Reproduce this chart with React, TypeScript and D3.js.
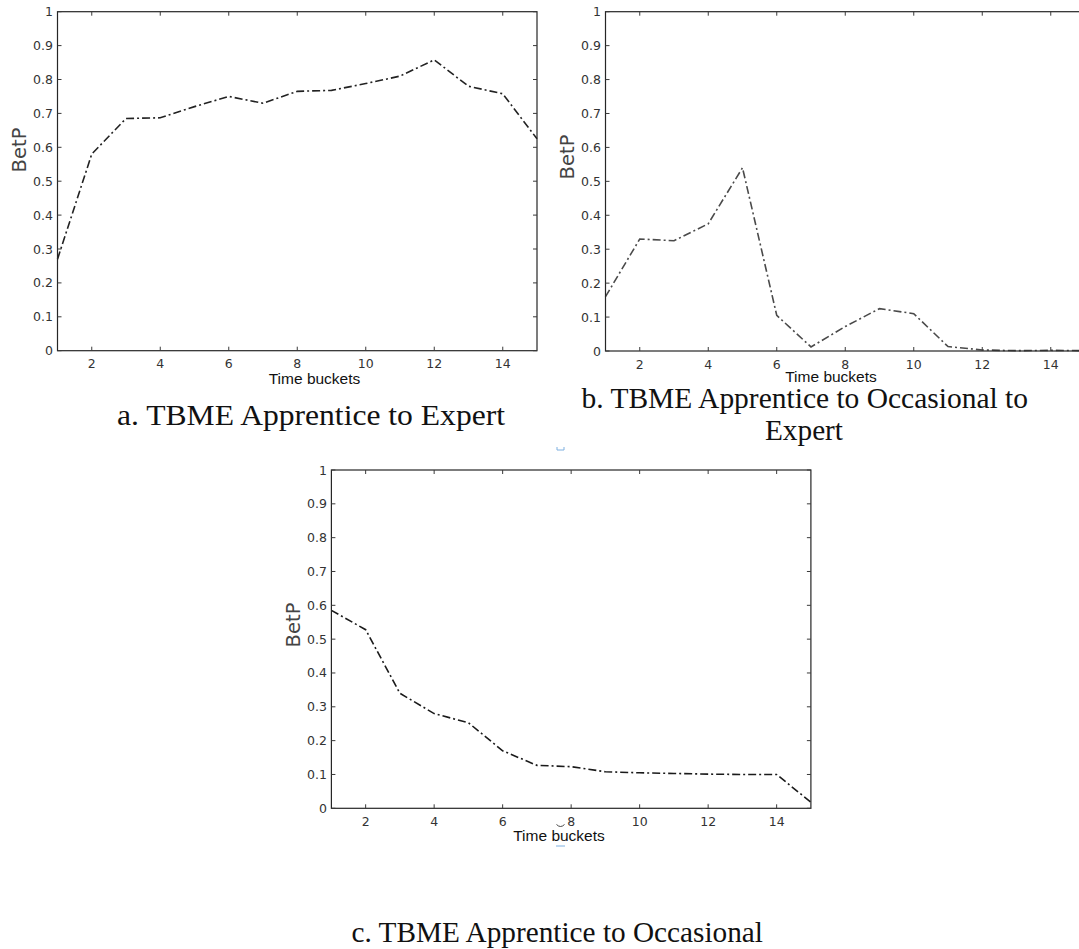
import React from "react";
import * as d3 from "d3";

const timeBuckets = [1, 2, 3, 4, 5, 6, 7, 8, 9, 10, 11, 12, 13, 14, 15];
const seriesA = [0.27, 0.58, 0.685, 0.687, 0.72, 0.75, 0.73, 0.765, 0.768, 0.788, 0.81, 0.858, 0.78, 0.758, 0.625];
const seriesB = [0.16, 0.33, 0.325, 0.375, 0.54, 0.105, 0.012, 0.072, 0.125, 0.11, 0.013, 0.003, 0.001, 0.002, 0.001];
const seriesC = [0.585, 0.528, 0.34, 0.28, 0.253, 0.17, 0.127, 0.123, 0.108, 0.105, 0.103, 0.101, 0.1, 0.1, 0.018];
const xTicks = [2, 4, 6, 8, 10, 12, 14];
const yTicks = [0, 0.1, 0.2, 0.3, 0.4, 0.5, 0.6, 0.7, 0.8, 0.9, 1];
const xLabel = "Time buckets";
const yLabel = "BetP";
const captionA = ["a. TBME Apprentice to Expert"];
const captionB = ["b. TBME Apprentice to Occasional to", "Expert"];
const captionC = ["c. TBME Apprentice to Occasional"];

type PanelProps = {
  values: number[];
  left: number;
  top: number;
  bottom: number;
  color: string;
  xLabelX: number;
  xLabelY: number;
  yLabelX: number;
  yLabelY: number;
};

const fmt = d3.format("~g");

function Panel({ values, left, top, bottom, color, xLabelX, xLabelY, yLabelX, yLabelY }: PanelProps) {
  const unit = 34.25;
  const x = d3.scaleLinear().domain([1, 15]).range([left, left + unit * 14]);
  const y = d3.scaleLinear().domain([0, 1]).range([bottom, top]);
  const [x0, x1] = x.range();
  const line = d3
    .line<number>()
    .x((_, i) => x(timeBuckets[i]))
    .y((d) => y(d));
  const tickColor = "#3a3a3a";
  return (
    <g>
      <path
        d={line(values) || ""}
        fill="none"
        stroke={color}
        strokeWidth={1.6}
        strokeDasharray="8,3,2,3"
      />
      <rect x={x0} y={top} width={x1 - x0} height={bottom - top} fill="none" stroke="#262626" strokeWidth={1.2} />
      {xTicks.map((t) => (
        <g key={"x" + t}>
          <line x1={x(t)} x2={x(t)} y1={bottom} y2={bottom - 4} stroke={tickColor} />
          <line x1={x(t)} x2={x(t)} y1={top} y2={top + 4} stroke={tickColor} />
          <text
            x={x(t)}
            y={bottom + 17.5}
            textAnchor="middle"
            fontFamily="DejaVu Sans"
            fontSize={12.5}
            fill="#333"
          >
            {fmt(t)}
          </text>
        </g>
      ))}
      {yTicks.map((t) => (
        <g key={"y" + t}>
          <line x1={x0} x2={x0 + 4} y1={y(t)} y2={y(t)} stroke={tickColor} />
          <line x1={x1} x2={x1 - 4} y1={y(t)} y2={y(t)} stroke={tickColor} />
          <text
            x={x0 - 4.5}
            y={y(t)}
            dy="0.36em"
            textAnchor="end"
            fontFamily="DejaVu Sans"
            fontSize={12.5}
            fill="#333"
          >
            {fmt(t)}
          </text>
        </g>
      ))}
      <text
        x={xLabelX}
        y={xLabelY}
        textAnchor="middle"
        fontFamily="Liberation Sans"
        fontSize={15.5}
        fill="#111"
      >
        {xLabel}
      </text>
      <text
        transform={`translate(${yLabelX},${yLabelY}) rotate(-90)`}
        textAnchor="middle"
        dy="0.36em"
        fontFamily="DejaVu Sans"
        fontSize={19.5}
        fill="#444"
      >
        {yLabel}
      </text>
    </g>
  );
}

function Caption({ lines, specs }: { lines: string[]; specs: { x: number; y: number; w: number }[] }) {
  return (
    <g>
      {lines.map((s, i) => (
        <text
          key={i}
          x={specs[i].x}
          y={specs[i].y}
          textLength={specs[i].w}
          lengthAdjust="spacingAndGlyphs"
          fontFamily="Liberation Serif"
          fontSize={28.5}
          fill="#111"
        >
          {s}
        </text>
      ))}
    </g>
  );
}

export default function App() {
  return (
    <div style={{ position: "absolute", left: 0, top: 0 }}>
      <svg width={1079} height={949} style={{ display: "block", background: "#fff" }}>
        <rect x={0} y={0} width={1079} height={949} fill="#fff" />
        <Panel
          values={seriesA}
          left={57.5}
          top={11.7}
          bottom={350.7}
          color="#222"
          xLabelX={314.5}
          xLabelY={384}
          yLabelX={18.5}
          yLabelY={150}
        />
        <Panel
          values={seriesB}
          left={605.5}
          top={11.7}
          bottom={351}
          color="#4a4a4a"
          xLabelX={831}
          xLabelY={382}
          yLabelX={566.5}
          yLabelY={157}
        />
        <Panel
          values={seriesC}
          left={331.4}
          top={470}
          bottom={808.3}
          color="#1a1a1a"
          xLabelX={559}
          xLabelY={841}
          yLabelX={293}
          yLabelY={625}
        />
        <Caption lines={captionA} specs={[{ x: 117, y: 425, w: 388 }]} />
        <Caption
          lines={captionB}
          specs={[
            { x: 581.5, y: 408, w: 446.5 },
            { x: 765, y: 440, w: 78 },
          ]}
        />
        <Caption lines={captionC} specs={[{ x: 351.5, y: 942, w: 411.5 }]} />
        <path d="M557,447 L557,450 L564,450 L564,447" fill="none" stroke="#7fb0e0" strokeWidth={1} />
        <path d="M556.5,824.5 Q560.5,828.5 564.5,824.5" fill="none" stroke="#333" strokeWidth={0.9} />
        <line x1={556} x2={565} y1={846} y2={846} stroke="#7fb0e0" strokeWidth={1} />
      </svg>
    </div>
  );
}
